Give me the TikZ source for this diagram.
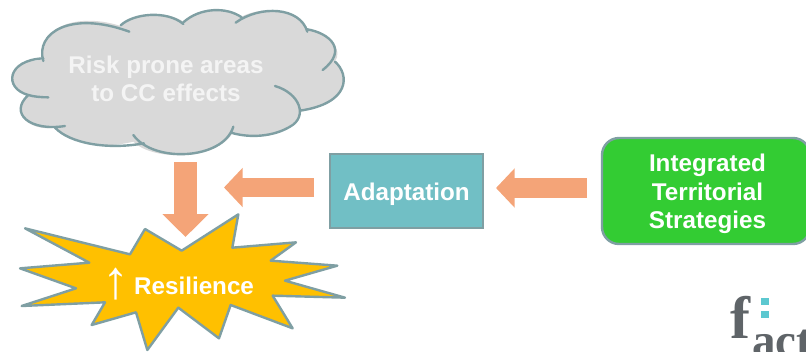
\documentclass[tikz,border=0pt]{standalone}
\usepackage{fontspec}
\setmainfont{Liberation Sans}
\newfontfamily\logofont{Liberation Serif}
\usetikzlibrary{arrows.meta}
\definecolor{edgegrey}{HTML}{7F9FA3}
\definecolor{cloudfill}{HTML}{D9D9D9}
\definecolor{boxteal}{HTML}{71BFC5}
\definecolor{boxgreen}{HTML}{33CC33}
\definecolor{burstfill}{HTML}{FFC000}
\definecolor{arrowsalmon}{HTML}{F4A478}
\definecolor{softwhite}{HTML}{F4F4F4}
\definecolor{logogrey}{HTML}{5F6468}
\definecolor{logoteal}{HTML}{5CC8D0}
\tikzset{
  shapeedge/.style={draw=edgegrey,line width=2.4pt},
  label/.style={font=\bfseries\fontsize{24.2}{28.5}\selectfont,text=white,align=center,inner sep=0pt},
  blockarrow/.style={line width=19.5pt,draw=arrowsalmon,-{Triangle[width=38pt,length=18.5pt]}},
  widearrow/.style={line width=23pt,draw=arrowsalmon,-{Triangle[width=45pt,length=23pt]}},
}
\begin{document}
\begin{tikzpicture}[x=1pt,y=-1pt]
\useasboundingbox (0,0) rectangle (806,351);
\clip (0,0) rectangle (806,351);
% cloud
\begin{scope}[x=0.33333pt,y=-0.33333pt]
\path[fill=cloudfill]
  (130,180) .. controls (105,100) and (210,30) .. (362,78)
  .. controls (400,40) and (500,30) .. (550,65)
  .. controls (600,22) and (680,20) .. (725,50)
  .. controls (780,20) and (900,20) .. (922,88)
  .. controls (990,100) and (1030,150) .. (1005,185)
  .. controls (1050,225) and (1050,310) .. (900,332)
  .. controls (900,385) and (780,425) .. (697,400)
  .. controls (650,480) and (460,485) .. (400,425)
  .. controls (300,450) and (200,425) .. (165,383)
  .. controls (90,395) and (25,340) .. (85,285)
  .. controls (10,265) and (20,180) .. (130,180) -- cycle;
\path[shapeedge,line cap=round]
  (130,183) .. controls (105,100) and (210,30) .. (388,95)
  (362,76) .. controls (400,40) and (500,30) .. (550,72)
  (550,67) .. controls (600,22) and (680,20) .. (725,52)
  (707,68) .. controls (780,15) and (900,20) .. (922,95)
  (922,88) .. controls (990,100) and (1045,150) .. (968,210)
  (1005,185) .. controls (1050,225) and (1050,310) .. (900,332)
  (825,258) .. controls (900,280) and (925,350) .. (870,380)
  .. controls (820,410) and (750,415) .. (693,398)
  (700,380) .. controls (670,480) and (460,490) .. (400,405)
  (432,430) .. controls (320,450) and (210,430) .. (165,383)
  (195,378) .. controls (90,395) and (25,340) .. (85,285) .. controls (100,290) and (125,292) .. (145,292)
  (85,285) .. controls (10,265) and (20,180) .. (130,175);
\end{scope}
\node[label,text=softwhite] (risk) at (166,79) {Risk prone areas\\to CC effects};
% burst
\begin{scope}[x=0.33333pt,y=-0.33333pt,yshift=-150pt]
\path[shapeedge,fill=burstfill,line join=round]
  (75,235)--(390,313)--(435,237)--(545,302)--(715,193)--(697,293)--(888,277)--(812,332)
  --(1012,347)--(855,392)--(1035,443)--(818,437)--(878,535)--(692,465)--(657,565)
  --(535,473)--(442,600)--(408,487)--(275,525)--(315,457)--(65,468)--(228,415)
  --(60,355)--(268,338)--cycle;
\end{scope}
\node[label,anchor=west] (res) at (134,285.5) {Resilience};
\node[label,font=\fontsize{54}{54}\selectfont] (up) at (116,284) {↑};
% boxes
\node[shapeedge,fill=boxteal,minimum width=153pt,minimum height=74pt,inner sep=0pt] (adapt) at (406.5,191) {};
\node[label] (adapttext) at (406.5,194.5) {Adaptation};
\node[shapeedge,fill=boxgreen,rounded corners=17pt,minimum width=208pt,minimum height=106pt,inner sep=0pt] (its) at (706,191) {};
\node[label] (itstext) at (707.5,194) {Integrated\\Territorial\\Strategies};
% connectors
\coordinate (cloudout) at (185.5,162);
\coordinate (burstin) at (185.5,237);
\coordinate (adaptout) at (314,187.5);
\coordinate (leftend) at (224,187.5);
\coordinate (itsout) at (587,188);
\coordinate (adaptin) at (496,188);
\draw[widearrow] (cloudout) -- (burstin);
\draw[blockarrow] (adaptout) -- (leftend);
\draw[blockarrow] (itsout) -- (adaptin);
% logo
\node[inner sep=0pt,anchor=base west,text=logogrey,font=\logofont\bfseries\fontsize{60}{60}\selectfont] (logof) at (730,338) {f};
\node[inner sep=0pt,anchor=base west,text=logogrey,font=\logofont\bfseries\fontsize{47}{47}\selectfont] (logoact) at (752,356) {act};
\fill[logoteal] (761,298) rectangle (769,305);
\fill[logoteal] (761,311) rectangle (769,318);
\end{tikzpicture}
\end{document}
